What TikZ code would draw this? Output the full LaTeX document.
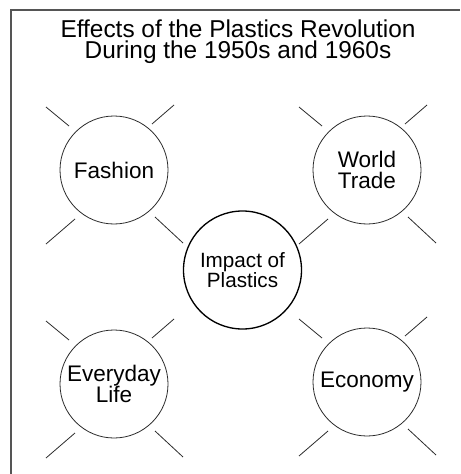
\documentclass[tikz,border=0pt]{standalone}
\usepackage{fontspec}
\setmainfont{Liberation Sans}
\usetikzlibrary{calc}
\definecolor{InkGrey}{HTML}{2B2B2B}
\definecolor{FrameGrey}{HTML}{555555}

\begin{document}
\begin{tikzpicture}[x=0.75pt,y=-0.75pt,
  topic/.style={draw=InkGrey,line width=0.6pt,circle,inner sep=0pt,minimum size=81pt,align=center,font=\fontsize{16.9}{16.3}\selectfont},
  hub/.style={draw=black,line width=1pt,circle,inner sep=0pt,minimum size=88.5pt,align=center,font=\fontsize{15.5}{14.8}\selectfont},
  ray/.style={draw=InkGrey,line width=0.6pt}]
  \useasboundingbox (0,0) rectangle (460,474);
  % frame
  \draw[FrameGrey,line width=0.8pt] (460,10) -- (11,10) -- (11,474);
  % title
  \node[align=center,font=\fontsize{18.3}{16.2}\selectfont] (title) at (238,41.5) {Effects of the Plastics Revolution\\During the 1950s and 1960s};

  % hub and topics
  \node[hub] (impact) at (242.5,270) {Impact of\\Plastics};
  \node[topic] (fashion) at (114,170) {Fashion};
  \node[topic] (trade) at (367,170) {World\\Trade};
  \node[topic] (life) at (114,384) {Everyday\\Life};
  \node[topic] (economy) at (367,382) {Economy};

  % rays round each topic
  \foreach \n in {fashion,trade,life,economy}{
    \foreach \xa/\ya/\xb/\yb in {-45/-44/-68/-63, 38/-46/60/-65, -39/49/-68/74, 41/47/69/73}{
      \draw[ray] ($(\n)+(\xa,\ya)$) -- ($(\n)+(\xb,\yb)$);
    }
  }
\end{tikzpicture}
\end{document}
